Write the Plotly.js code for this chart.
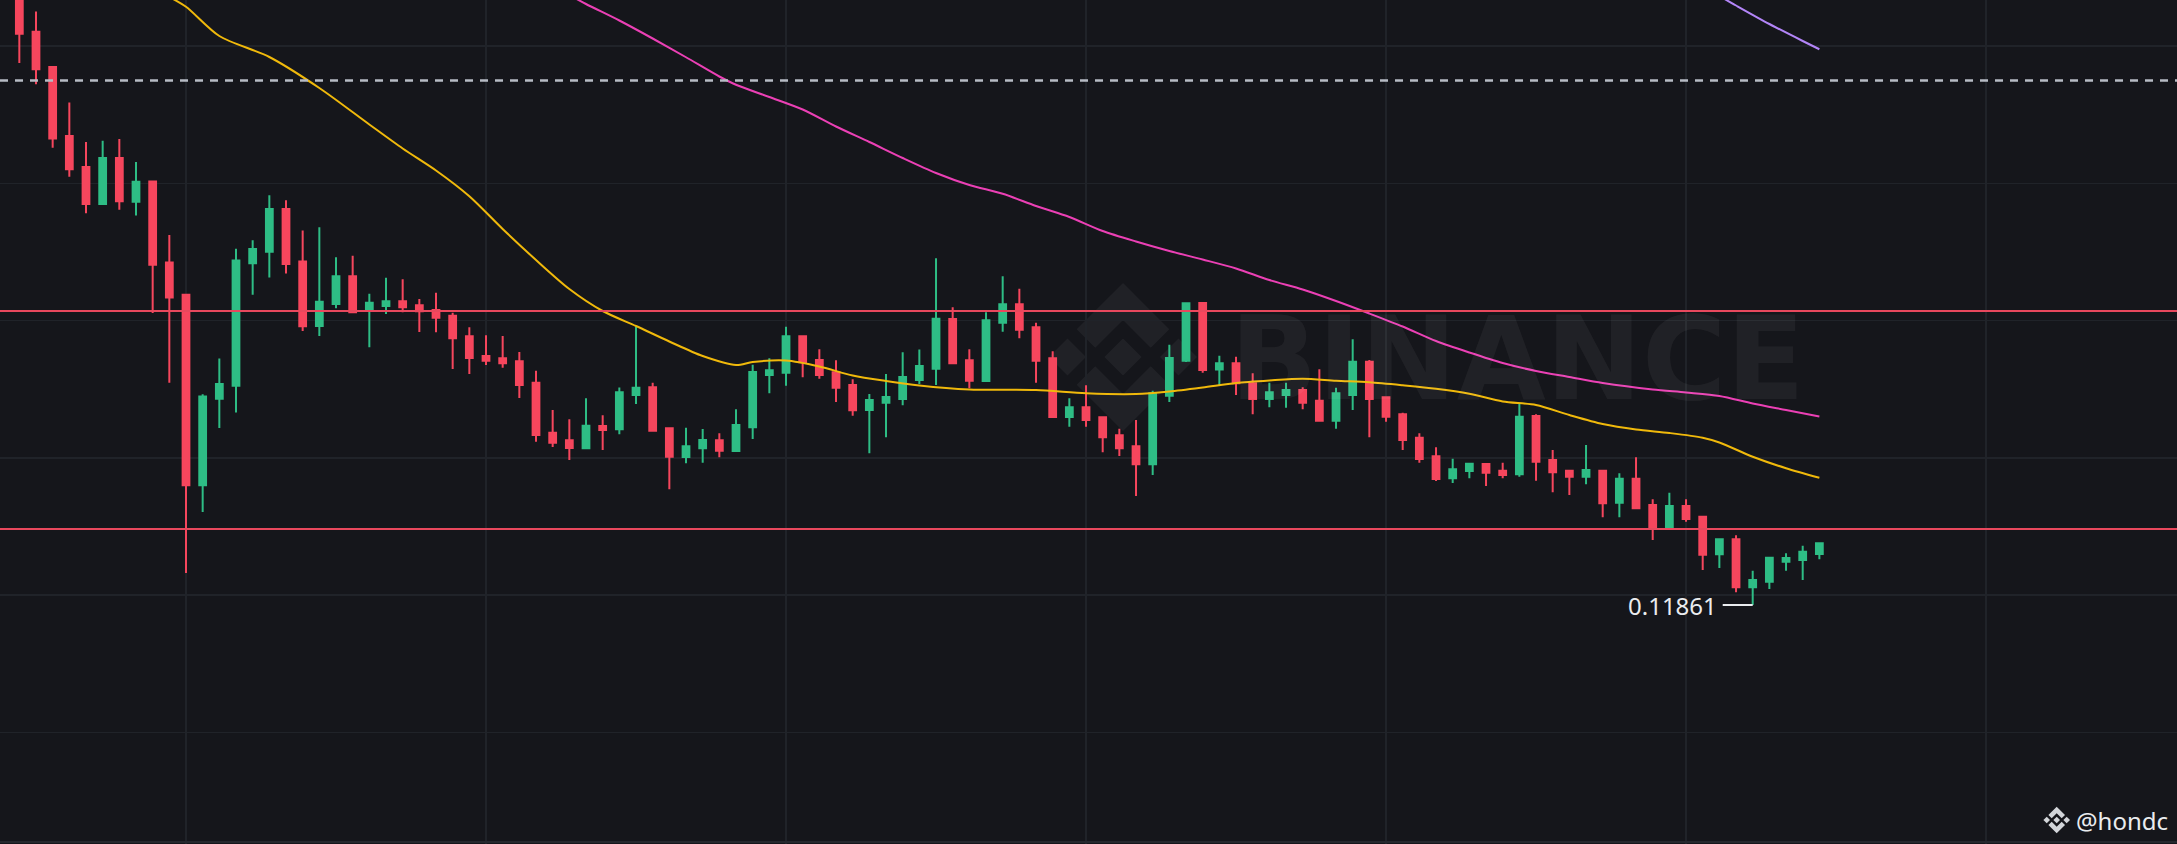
<!DOCTYPE html>
<html><head><meta charset="utf-8">
<script src="https://cdn.plot.ly/plotly-3.0.1.min.js"></script>
<style>html,body{margin:0;padding:0;background:#15161b;overflow:hidden}#chart{width:2177px;height:844px}</style>
</head><body><div id="chart"></div>
<script>
// ---- data ----
const openP = [0.14341,0.14154,0.14013,0.13737,0.13613,0.13465,0.13649,0.13474,0.13555,0.13231,
0.13102,0.12340,0.12686,0.12738,0.13228,0.13274,0.13445,0.13235,0.12977,0.13065,
0.13176,0.13044,0.13057,0.13076,0.13060,0.13041,0.13018,0.12936,0.12857,0.12848,
0.12836,0.12750,0.12550,0.12520,0.12488,0.12577,0.12564,0.12701,0.12732,0.12568,
0.12453,0.12488,0.12520,0.12477,0.12572,0.12781,0.12790,0.12936,0.12841,0.12792,
0.12741,0.12641,0.12670,0.12685,0.12761,0.12806,0.13005,0.12840,0.12757,0.12990,
0.13064,0.12972,0.12848,0.12613,0.12652,0.12612,0.12540,0.12496,0.12424,0.12698,
0.12838,0.13069,0.12803,0.12828,0.12748,0.12685,0.12701,0.12721,0.12678,0.12598,
0.12701,0.12834,0.12692,0.12624,0.12530,0.12456,0.12368,0.12397,0.12425,0.12398,
0.12384,0.12617,0.12441,0.12398,0.12374,0.12398,0.12270,0.12366,0.12261,0.12172,
0.12257,0.12214,0.12064,0.12124,0.11932,0.11954,0.12034,0.12041,0.12065];
const highP = [0.14381,0.14235,0.14017,0.13871,0.13713,0.13718,0.13725,0.13633,0.13557,0.13341,
0.13105,0.12704,0.12847,0.13286,0.13320,0.13500,0.13480,0.13359,0.13372,0.13252,
0.13258,0.13106,0.13170,0.13164,0.13085,0.13110,0.13030,0.12972,0.12940,0.12937,
0.12873,0.12798,0.12641,0.12604,0.12688,0.12620,0.12731,0.12974,0.12750,0.12569,
0.12570,0.12565,0.12548,0.12644,0.12822,0.12848,0.12974,0.12937,0.12884,0.12840,
0.12764,0.12705,0.12785,0.12872,0.12883,0.13248,0.13052,0.12884,0.13032,0.13176,
0.13126,0.12990,0.12876,0.12688,0.12740,0.12613,0.12566,0.12601,0.12718,0.12902,
0.13070,0.13072,0.12858,0.12854,0.12788,0.12750,0.12750,0.12732,0.12804,0.12730,
0.12924,0.12841,0.12692,0.12630,0.12548,0.12492,0.12446,0.12428,0.12429,0.12430,
0.12665,0.12624,0.12481,0.12401,0.12501,0.12401,0.12388,0.12452,0.12284,0.12310,
0.12284,0.12217,0.12124,0.12140,0.11998,0.12050,0.12068,0.12098,0.12108];
const lowP = [0.14029,0.13944,0.13690,0.13574,0.13428,0.13461,0.13442,0.13419,0.13029,0.12750,
0.11989,0.12233,0.12569,0.12631,0.13102,0.13171,0.13187,0.12957,0.12937,0.13048,
0.13029,0.12892,0.13025,0.13032,0.12953,0.12952,0.12805,0.12785,0.12821,0.12810,
0.12689,0.12514,0.12493,0.12441,0.12485,0.12481,0.12544,0.12665,0.12554,0.12324,
0.12428,0.12430,0.12452,0.12475,0.12525,0.12708,0.12738,0.12772,0.12766,0.12673,
0.12618,0.12468,0.12532,0.12660,0.12745,0.12741,0.12825,0.12728,0.12755,0.12954,
0.12928,0.12750,0.12612,0.12574,0.12574,0.12472,0.12457,0.12297,0.12381,0.12673,
0.12833,0.12790,0.12741,0.12701,0.12624,0.12652,0.12650,0.12644,0.12594,0.12566,
0.12641,0.12532,0.12594,0.12481,0.12430,0.12357,0.12349,0.12368,0.12337,0.12368,
0.12374,0.12358,0.12312,0.12301,0.12344,0.12212,0.12212,0.12244,0.12121,0.12171,
0.12194,0.12001,0.12009,0.11912,0.11861,0.11925,0.11998,0.11961,0.12044];
const closeP = [0.14146,0.14004,0.13727,0.13604,0.13465,0.13649,0.13476,0.13554,0.13222,0.13091,
0.12340,0.12695,0.12745,0.13239,0.13285,0.13445,0.13225,0.12976,0.13074,0.13176,
0.13032,0.13070,0.13076,0.13052,0.13036,0.13010,0.12928,0.12849,0.12838,0.12828,
0.12741,0.12541,0.12510,0.12489,0.12578,0.12561,0.12712,0.12730,0.12558,0.12454,
0.12496,0.12521,0.12478,0.12581,0.12793,0.12800,0.12936,0.12832,0.12781,0.12730,
0.12640,0.12681,0.12693,0.12773,0.12817,0.13006,0.12828,0.12758,0.13000,0.13064,
0.12962,0.12838,0.12613,0.12652,0.12601,0.12532,0.12488,0.12424,0.12708,0.12849,
0.13068,0.12801,0.12828,0.12748,0.12685,0.12712,0.12721,0.12670,0.12598,0.12708,
0.12834,0.12685,0.12614,0.12521,0.12445,0.12365,0.12404,0.12426,0.12390,0.12381,
0.12614,0.12434,0.12392,0.12374,0.12401,0.12268,0.12366,0.12248,0.12165,0.12257,
0.12205,0.12062,0.12124,0.11932,0.11961,0.12050,0.12049,0.12074,0.12108];

const maYellowIdx = [9,10,12,15,18,21,23,25,27,29,31,33,35,37,39,41,43,44,46,48,50,52,54,57,61,64,67,69,71,73,75,77,79,81,83,85,87,89,91,93,95,97,99,101,102,104,106,108];
const maYellowVal = [0.14293,0.14254,0.14137,0.14053,0.13929,0.13783,0.13687,0.13599,0.13496,0.13365,0.13241,0.13125,0.13037,0.12977,0.12915,0.12857,0.12821,0.12833,0.12839,0.12815,0.12779,0.12757,0.12739,0.12723,0.12721,0.12708,0.12705,0.12715,0.12731,0.12749,0.12759,0.12766,0.12758,0.12752,0.12740,0.12726,0.12706,0.12675,0.12661,0.12621,0.12585,0.12563,0.12549,0.12530,0.12511,0.12454,0.12408,0.12370];

const maPinkIdx = [33,34,36,38,40,42,43,45,47,49,51,53,55,57,59,61,63,65,67,69,71,73,75,77,79,81,83,85,87,89,91,93,95,98,100,102,104,106,108];
const maPinkVal = [0.14301,0.14265,0.14199,0.14127,0.14052,0.13975,0.13942,0.13893,0.13843,0.13775,0.13713,0.13649,0.13589,0.13541,0.13506,0.13457,0.13413,0.13357,0.13315,0.13277,0.13243,0.13207,0.13161,0.13123,0.13077,0.13027,0.12975,0.12917,0.12871,0.12829,0.12797,0.12773,0.12749,0.12723,0.12711,0.12697,0.12667,0.12641,0.12615];

const maPurpleIdx = [102,103,105,107,108];
const maPurpleVal = [0.14297,0.14259,0.14185,0.14117,0.14084];

const levelLines = [0.13037, 0.12165];
const dashedLevel = 0.13959;
const watermarkText = 'BINANCE';
const userTag = '@hondc';

// ---- layout helpers ----
const W = 2177, H = 844;
const idx = openP.map((_, i) => i);
const green = '#2EBD85', red = '#F6465D';

function px(x){ return (x / W).toFixed(5); }
function py(y){ return (1 - y / H).toFixed(5); }
function poly(pts, cx, cy, R){
  return 'M' + pts.map(p => px(cx + p[0]*R) + ',' + py(cy + p[1]*R)).join(' L') + ' Z';
}
function logo(cx, cy, R, color, layer){
  const d = [[0,-0.25],[0.25,0],[0,0.25],[-0.25,0]];
  const shift = (pts, dx) => pts.map(p => [p[0]+dx, p[1]]);
  const top = [[0,-1],[0.625,-0.375],[0.375,-0.125],[0,-0.5],[-0.375,-0.125],[-0.625,-0.375]];
  const bottom = top.map(p => [p[0], -p[1]]);
  const polys = [d, shift(d,-0.75), shift(d,0.75), top, bottom];
  return polys.map(p => ({type:'path', xref:'paper', yref:'paper', path: poly(p, cx, cy, R),
    fillcolor: color, line:{width:0}, layer: layer}));
}

// lowest low marker
let lowIdx = 0;
lowP.forEach((v, i) => { if (v < lowP[lowIdx]) lowIdx = i; });

const traces = [
  {type:'candlestick', x: idx, open: openP, high: highP, low: lowP, close: closeP,
   increasing:{line:{color:green, width:2}, fillcolor:green},
   decreasing:{line:{color:red, width:2}, fillcolor:red},
   whiskerwidth:0, hoverinfo:'skip', showlegend:false},
  {type:'scatter', mode:'lines', x: maYellowIdx, y: maYellowVal,
   line:{color:'#F0B90B', width:2, shape:'spline', smoothing:0.8}, hoverinfo:'skip', showlegend:false},
  {type:'scatter', mode:'lines', x: maPinkIdx, y: maPinkVal,
   line:{color:'#EB40B5', width:2, shape:'spline', smoothing:0.8}, hoverinfo:'skip', showlegend:false},
  {type:'scatter', mode:'lines', x: maPurpleIdx, y: maPurpleVal,
   line:{color:'#B385F8', width:2, shape:'spline', smoothing:0.8}, hoverinfo:'skip', showlegend:false}
];

const shapes = [];
logo(1123, 357, 74, 'rgba(255,255,255,0.05)', 'below').forEach(s => shapes.push(s));
levelLines.forEach(v => shapes.push({type:'line', xref:'paper', x0:0, x1:1, yref:'y', y0:v, y1:v,
  line:{color:'#E8485D', width:2}}));
shapes.push({type:'line', xref:'paper', x0:0, x1:1, yref:'y', y0:dashedLevel, y1:dashedLevel,
  line:{color:'#B7BCC5', width:2.5, dash:'8px,7px'}});
shapes.push({type:'line', xref:'x', yref:'y', x0: lowIdx - 1.8, x1: lowIdx, y0: lowP[lowIdx], y1: lowP[lowIdx],
  line:{color:'#EAECEF', width:2}});
shapes.push({type:'line', xref:'paper', yref:'paper', x0:0, x1:1, y0: py(842), y1: py(842),
  line:{color:'#25282e', width:2}});
logo(2056.7, 820, 13.3, '#D2D5D9', 'above').forEach(s => shapes.push(s));

const annotations = [
  {xref:'paper', yref:'paper', x: 1228/W, y: 1 - 359/H, xanchor:'left', yanchor:'middle',
   text: watermarkText, showarrow:false,
   font:{family:'DejaVu Sans', size:115, weight:700, color:'rgba(255,255,255,0.05)'}},
  {xref:'x', yref:'y', x: lowIdx - 2.05, y: lowP[lowIdx], xanchor:'right', yanchor:'middle',
   text: lowP[lowIdx].toFixed(5), showarrow:false,
   font:{family:'Noto Sans', size:24, color:'#EAECEF'}},
  {xref:'paper', yref:'paper', x: 2074/W, y: 1 - 820.5/H, xanchor:'left', yanchor:'middle',
   text: userTag, showarrow:false, font:{family:'Noto Sans', size:24, color:'#EAECEF'}}
];

const layout = {
  width: W, height: H,
  margin:{l:0, r:0, t:0, b:0, pad:0},
  paper_bgcolor:'#15161b', plot_bgcolor:'#15161b',
  showlegend:false, hovermode:false, boxgap:0.42,
  xaxis:{range:[-19.33/16.667, (W-19.33)/16.667], showticklabels:false, ticks:'', zeroline:false,
    showline:false, showgrid:true, gridcolor:'#202329', gridwidth:1.5, tick0:10, dtick:18,
    rangeslider:{visible:false}, fixedrange:true},
  yaxis:{range:[0.14281 - 0.00004*H, 0.14281], showticklabels:false, ticks:'', zeroline:false,
    showline:false, showgrid:true, gridcolor:'#202329', gridwidth:1.5, tick0:0.14097, dtick:0.005492,
    fixedrange:true},
  shapes: shapes,
  annotations: annotations
};

Plotly.newPlot('chart', traces, layout, {staticPlot:true, displayModeBar:false});
</script>
</body></html>
